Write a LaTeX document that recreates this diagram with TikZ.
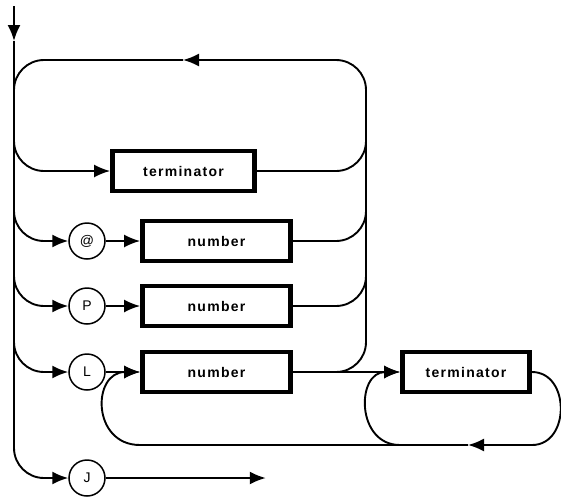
\documentclass[tikz,border=0pt]{standalone}
\usepackage{fontspec}
\newfontfamily\lbl[LetterSpace=9]{Liberation Sans}
\usetikzlibrary{arrows.meta}
\begin{document}
\begin{tikzpicture}[x=1pt,y=-1pt,
  line width=1.9pt,
  arr/.style={-{Latex[length=16pt,width=13pt]}},
  rc/.style={rounded corners=30pt},
  box/.style={draw,line width=4.8pt,rectangle,minimum height=40pt,inner sep=0pt,font=\lbl\bfseries\fontsize{14}{16}\selectfont},
  term/.style={draw,circle,line width=1.5pt,minimum size=36pt,inner sep=0pt,font=\lbl\fontsize{14}{16}\selectfont}]
\useasboundingbox (0,0) rectangle (561,498);

% entry and the main line
\coordinate (entry) at (14,6);
\coordinate (tip) at (14,41);
\coordinate (topL) at (14,110);
\coordinate (amid) at (183,60);
\coordinate (rtop) at (366,60);

% boxes and terminals
\node[box,minimum width=142pt] (term1) at (183.5,171) {terminator};
\node[term] (at) at (87,241) {@};
\node[box,minimum width=148pt] (num1) at (216.5,241) {number};
\node[term] (p) at (87,306) {P};
\node[box,minimum width=148pt] (num2) at (216.5,306) {number};
\node[term] (l) at (87,372) {L};
\node[box,minimum width=148pt] (num3) at (216.5,372) {number};
\node[box,minimum width=127pt] (term2) at (466,372) {terminator};
\node[term] (j) at (87,478) {J};

% branch points on the main line
\coordinate (m1) at (14,130);
\coordinate (m2) at (14,200);
\coordinate (m3) at (14,265);
\coordinate (m4) at (14,330);
% join points on the return line
\coordinate (r1) at (366,130);
\coordinate (r2) at (366,200);
\coordinate (r3) at (366,265);
% bottom loop
\coordinate (bR) at (532,445);
\coordinate (bA) at (468,445);
\coordinate (bT) at (400,445);
\coordinate (bL) at (140,445);

\draw[arr] (entry) -- (tip);
\draw[arr,rc] (tip) |- (j.west);
\draw[arr] (j.east) -- ++(160,0) coordinate (jend);

% return loop over the top
\draw[arr,rc] (num3.east) -| (rtop) -- (amid);
\draw[rc] (amid) -| (topL);

% terminator branch
\draw[arr,rc] (m1) |- (term1.west);
\draw[rc] (term1.east) -| (r1);

% @ branch
\draw[arr,rc] (m2) |- (at.west);
\draw[arr] (at) -- (num1);
\draw[rc] (num1.east) -| (r2);

% P branch
\draw[arr,rc] (m3) |- (p.west);
\draw[arr] (p) -- (num2);
\draw[rc] (num2.east) -| (r3);

% L branch
\draw[arr,rc] (m4) |- (l.west);
\draw[arr] (l) -- (num3);
\draw[arr] (num3) -- (term2);

% loops below the L branch
\draw[arr] (term2.east) to[out=0,in=0,looseness=1.35] (bR) -- (bA);
\draw[arr] (bA) -- (bL) to[out=180,in=180,looseness=1.7] (num3.west);
\draw[arr] (bT) to[out=180,in=180,looseness=1.55] (term2.west);
\end{tikzpicture}
\end{document}
